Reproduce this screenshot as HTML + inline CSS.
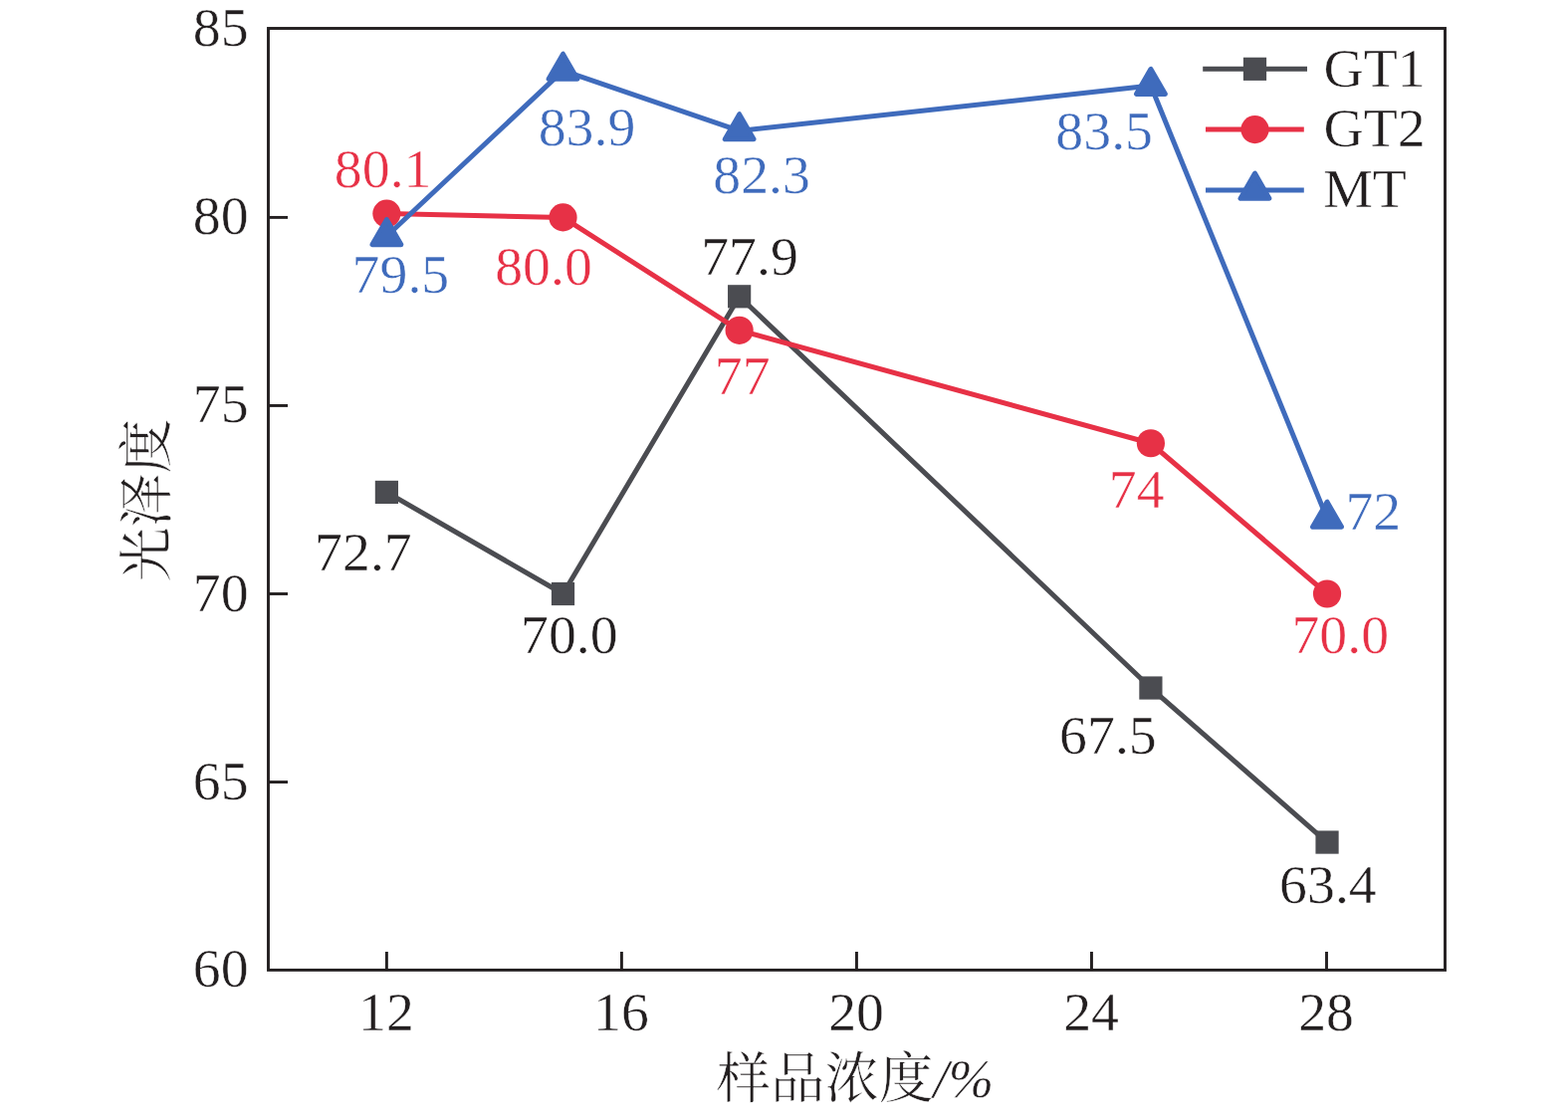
<!DOCTYPE html>
<html lang="zh"><head><meta charset="utf-8"><title>光泽度 vs 样品浓度</title>
<style>html,body{margin:0;padding:0;background:#fff;}svg{display:block;}text{font-family:"Liberation Serif","Noto Serif CJK SC",serif;stroke:#fff;stroke-width:.45px;}</style>
</head><body>
<svg width="1575" height="1122" viewBox="0 0 1575 1122" role="img" aria-label="Line chart: gloss (光泽度) versus sample concentration (样品浓度/%) for GT1, GT2 and MT" font-family="Liberation Serif, serif" font-size="55.8">
<rect x="0" y="0" width="1575" height="1122" fill="#ffffff"/>
<g id="gt1">
<polyline points="388.4,494.41 565.52,596.5 742.64,297.8 1155.92,691.02 1333.04,846.05" fill="none" stroke="#4b4c51" stroke-width="5.0" stroke-linejoin="round" stroke-linecap="butt"/>
<rect x="376.8" y="482.81" width="23.2" height="23.2" fill="#4b4c51"/>
<rect x="553.92" y="584.9" width="23.2" height="23.2" fill="#4b4c51"/>
<rect x="731.04" y="286.2" width="23.2" height="23.2" fill="#4b4c51"/>
<rect x="1144.32" y="679.42" width="23.2" height="23.2" fill="#4b4c51"/>
<rect x="1321.44" y="834.45" width="23.2" height="23.2" fill="#4b4c51"/>
</g>
<g id="gt2">
<polyline points="388.4,214.62 565.52,218.4 742.64,331.83 1155.92,445.26 1333.04,596.5" fill="none" stroke="#e73146" stroke-width="5.0" stroke-linejoin="round" stroke-linecap="butt"/>
<circle cx="388.4" cy="214.62" r="14.1" fill="#e73146"/>
<circle cx="565.52" cy="218.4" r="14.1" fill="#e73146"/>
<circle cx="742.64" cy="331.83" r="14.1" fill="#e73146"/>
<circle cx="1155.92" cy="445.26" r="14.1" fill="#e73146"/>
<circle cx="1333.04" cy="596.5" r="14.1" fill="#e73146"/>
</g>
<g id="mt">
<polyline points="388.4,237.3 565.52,70.94 742.64,131.44 1155.92,86.06 1333.04,520.88" fill="none" stroke="#3f6bbc" stroke-width="5.0" stroke-linejoin="round" stroke-linecap="butt"/>
<polygon points="388.4,220.45 373.8,245.73 403,245.73" fill="#3f6bbc" stroke="#3f6bbc" stroke-width="4.8" stroke-linejoin="round"/>
<polygon points="565.52,54.08 550.92,79.37 580.12,79.37" fill="#3f6bbc" stroke="#3f6bbc" stroke-width="4.8" stroke-linejoin="round"/>
<polygon points="742.64,114.58 728.04,139.87 757.24,139.87" fill="#3f6bbc" stroke="#3f6bbc" stroke-width="4.8" stroke-linejoin="round"/>
<polygon points="1155.92,69.21 1141.32,94.49 1170.52,94.49" fill="#3f6bbc" stroke="#3f6bbc" stroke-width="4.8" stroke-linejoin="round"/>
<polygon points="1333.04,504.02 1318.44,529.31 1347.64,529.31" fill="#3f6bbc" stroke="#3f6bbc" stroke-width="4.8" stroke-linejoin="round"/>
</g>
<g stroke="#231f20" stroke-width="2.9" fill="none" stroke-linecap="butt">
<rect x="269.5" y="28.5" width="1182.0" height="945.9"/>
<line x1="269.5" y1="785.55" x2="289.0" y2="785.55"/>
<line x1="269.5" y1="596.5" x2="289.0" y2="596.5"/>
<line x1="269.5" y1="407.45" x2="289.0" y2="407.45"/>
<line x1="269.5" y1="218.4" x2="289.0" y2="218.4"/>
<line x1="388.4" y1="974.4" x2="388.4" y2="956.0"/>
<line x1="624.42" y1="974.4" x2="624.42" y2="956.0"/>
<line x1="860.45" y1="974.4" x2="860.45" y2="956.0"/>
<line x1="1096.47" y1="974.4" x2="1096.47" y2="956.0"/>
<line x1="1332.5" y1="974.4" x2="1332.5" y2="956.0"/>
</g>
<g fill="#231f20">
<text x="249.6" y="45.5" text-anchor="end">85</text>
<text x="249.6" y="235.4" text-anchor="end">80</text>
<text x="249.6" y="424.45" text-anchor="end">75</text>
<text x="249.6" y="613.5" text-anchor="end">70</text>
<text x="249.6" y="802.55" text-anchor="end">65</text>
<text x="249.6" y="991.4" text-anchor="end">60</text>
<text x="388" y="1035" text-anchor="middle">12</text>
<text x="624.02" y="1035" text-anchor="middle">16</text>
<text x="860.05" y="1035" text-anchor="middle">20</text>
<text x="1096.07" y="1035" text-anchor="middle">24</text>
<text x="1332.1" y="1035" text-anchor="middle">28</text>
</g>
<text x="316.09" y="572.5" fill="#231f20">72.7</text>
<text x="523" y="656.1" fill="#231f20">70.0</text>
<text x="704.23" y="275.9" fill="#231f20">77.9</text>
<text x="1064.12" y="756.7" fill="#231f20">67.5</text>
<text x="1285.09" y="907" fill="#231f20">63.4</text>
<text x="335.86" y="187.8" fill="#e73146">80.1</text>
<text x="497.22" y="285.8" fill="#e73146">80.0</text>
<text x="717.76" y="395.5" fill="#e73146">77</text>
<text x="1113.75" y="510.3" fill="#e73146">74</text>
<text x="1297.45" y="655.5" fill="#e73146">70.0</text>
<text x="353.58" y="294.4" fill="#3f6bbc">79.5</text>
<text x="540.73" y="146.3" fill="#3f6bbc">83.9</text>
<text x="716.25" y="193.5" fill="#3f6bbc">82.3</text>
<text x="1060.35" y="149.8" fill="#3f6bbc">83.5</text>
<text x="1351.4" y="531.7" fill="#3f6bbc">72</text>
<line x1="1208.2" y1="69.3" x2="1313.0" y2="69.3" stroke="#4b4c51" stroke-width="5.0"/>
<rect x="1248.9" y="57.7" width="23.2" height="23.2" fill="#4b4c51"/>
<text x="1329.41" y="87.0" fill="#231f20">GT1</text>
<line x1="1211.0" y1="130.1" x2="1309.8" y2="130.1" stroke="#e73146" stroke-width="5.0"/>
<circle cx="1260.5" cy="130.1" r="14.1" fill="#e73146"/>
<text x="1329.41" y="147.0" fill="#231f20">GT2</text>
<line x1="1211.0" y1="190.9" x2="1309.8" y2="190.9" stroke="#3f6bbc" stroke-width="5.0"/>
<polygon points="1260.5,174.04 1245.9,199.33 1275.1,199.33" fill="#3f6bbc" stroke="#3f6bbc" stroke-width="4.8" stroke-linejoin="round"/>
<text x="1329.19" y="207.6" fill="#231f20">MT</text>
<text x="719.51" y="1102" font-size="54.5" fill="#231f20">样品浓度<tspan font-style="italic">/%</tspan></text>
<text transform="translate(165.5,584.25) rotate(-90)" font-size="54.5" fill="#231f20">光泽度</text>
</svg></body></html>
